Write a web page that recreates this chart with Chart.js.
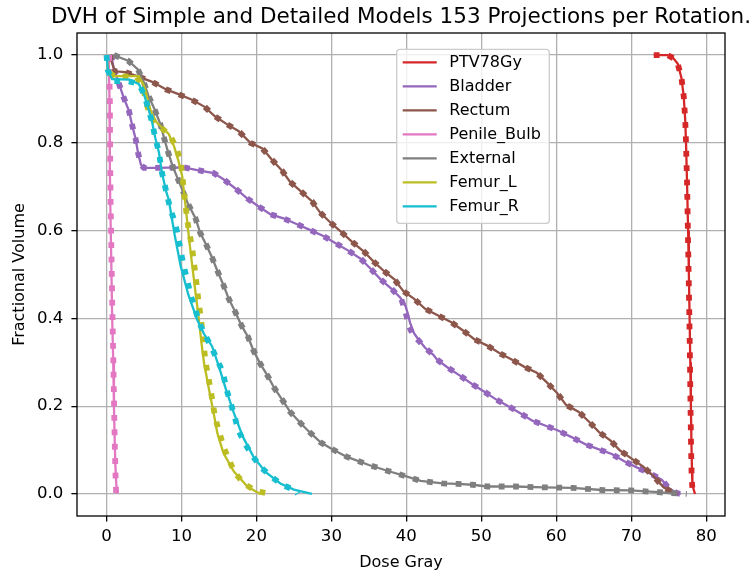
<!DOCTYPE html>
<html>
<head>
<meta charset="utf-8">
<script src="https://cdn.jsdelivr.net/npm/chart.js@4/dist/chart.umd.min.js"></script>
<style>
  html, body { margin: 0; padding: 0; background: #ffffff; }
  canvas { display: block; }
</style>
</head>
<body>
<canvas id="c" width="756" height="575"></canvas>
<script>
// ---------- DATA ----------
const structures = ["PTV78Gy", "Bladder", "Rectum", "Penile_Bulb", "External", "Femur_L", "Femur_R"];
const xTickValues = [0, 10, 20, 30, 40, 50, 60, 70, 80];
const yTickValues = [0.0, 0.2, 0.4, 0.6, 0.8, 1.0];

// Detailed model (solid lines)
const ptvDose = [73.0, 74.8, 75.6, 76.2, 76.7, 77.0, 77.2, 77.3, 77.45, 77.58, 77.68, 77.78, 77.87, 77.95, 78.04, 78.1, 78.15, 78.5];
const ptvVol  = [1.0, 1.0, 0.993, 0.98, 0.947, 0.905, 0.85, 0.8, 0.7, 0.6, 0.5, 0.4, 0.3, 0.2, 0.1, 0.05, 0.02, 0.0];

const bladderDose = [0.6, 1.0, 2.3, 3.0, 3.4, 3.9, 4.2, 4.6, 5.0, 6.5, 10.3, 12.1, 14.3, 15.6, 17.2, 18.8, 20.3, 21.9, 23.6, 25.5, 27.2, 29.0, 30.5, 32.2, 33.9, 35.3, 36.5, 38.1, 39.2, 39.9, 40.2, 40.5, 41.0, 41.6, 42.5, 43.6, 44.1, 45.6, 47.2, 48.8, 50.3, 52.0, 53.6, 55.2, 56.8, 58.5, 60.3, 62.1, 63.9, 65.6, 67.4, 69.0, 70.8, 72.5, 74.1, 75.0, 76.1, 76.6];
const bladderVol  = [1.0, 0.968, 0.903, 0.873, 0.842, 0.808, 0.778, 0.75, 0.743, 0.743, 0.744, 0.738, 0.731, 0.717, 0.696, 0.673, 0.655, 0.637, 0.628, 0.614, 0.601, 0.587, 0.572, 0.555, 0.536, 0.512, 0.49, 0.466, 0.447, 0.428, 0.41, 0.39, 0.367, 0.352, 0.333, 0.317, 0.306, 0.287, 0.269, 0.25, 0.234, 0.215, 0.2, 0.184, 0.167, 0.156, 0.144, 0.129, 0.113, 0.102, 0.091, 0.075, 0.06, 0.047, 0.032, 0.013, 0.002, 0.0];

const rectumDose = [0.4, 1.1, 2.5, 3.9, 6.1, 7.9, 9.6, 11.4, 13.1, 14.5, 16.1, 17.6, 19.2, 20.8, 22.1, 23.4, 24.5, 25.9, 27.4, 28.5, 29.9, 31.3, 32.8, 34.3, 35.6, 37.0, 38.4, 39.6, 41.0, 42.5, 44.3, 46.0, 47.6, 49.1, 50.8, 52.4, 54.1, 55.8, 57.4, 58.8, 60.1, 61.3, 63.0, 64.4, 65.7, 67.2, 68.5, 70.0, 71.6, 73.0, 74.3, 75.6, 76.2];
const rectumVol  = [1.0, 0.963, 0.961, 0.953, 0.939, 0.922, 0.911, 0.898, 0.882, 0.86, 0.842, 0.827, 0.8, 0.787, 0.761, 0.737, 0.711, 0.69, 0.667, 0.641, 0.618, 0.597, 0.574, 0.553, 0.53, 0.508, 0.489, 0.462, 0.445, 0.422, 0.406, 0.391, 0.372, 0.352, 0.338, 0.321, 0.306, 0.289, 0.276, 0.253, 0.23, 0.203, 0.187, 0.164, 0.141, 0.122, 0.099, 0.081, 0.062, 0.04, 0.015, 0.003, 0.0];

const bulbDose = [0.3, 0.4, 0.45, 0.5, 0.62, 0.76, 0.9, 1.0, 1.1, 1.2, 1.3, 1.43];
const bulbVol  = [1.0, 0.9, 0.75, 0.67, 0.55, 0.405, 0.3, 0.2, 0.12, 0.062, 0.025, 0.0];

const externalDose = [0.9, 2.9, 4.2, 5.0, 5.6, 6.4, 7.2, 7.7, 8.2, 8.8, 9.9, 10.8, 11.9, 12.5, 13.3, 14.1, 14.8, 15.6, 16.3, 17.2, 18.0, 18.9, 19.6, 20.5, 21.5, 22.4, 23.5, 24.5, 25.9, 27.2, 28.6, 29.9, 32.0, 35.0, 38.0, 40.0, 41.9, 44.8, 46.8, 48.8, 50.8, 54.5, 58.3, 62.1, 66.1, 69.9, 73.6, 76.0];
const externalVol  = [1.0, 0.987, 0.967, 0.937, 0.907, 0.877, 0.842, 0.81, 0.78, 0.748, 0.702, 0.664, 0.627, 0.595, 0.568, 0.538, 0.508, 0.476, 0.445, 0.414, 0.384, 0.357, 0.327, 0.297, 0.269, 0.241, 0.213, 0.187, 0.161, 0.139, 0.117, 0.104, 0.085, 0.066, 0.05, 0.04, 0.03, 0.024, 0.023, 0.021, 0.017, 0.017, 0.015, 0.014, 0.009, 0.008, 0.004, 0.0];

const femurLDose = [0.0, 0.3, 1.0, 4.3, 5.0, 5.9, 6.5, 7.4, 8.3, 9.0, 9.6, 10.1, 10.5, 10.9, 11.3, 11.8, 12.3, 12.7, 13.0, 13.6, 14.3, 14.8, 15.6, 17.0, 18.8, 20.5];
const femurLVol  = [1.0, 0.955, 0.952, 0.952, 0.93, 0.873, 0.85, 0.835, 0.82, 0.793, 0.759, 0.724, 0.664, 0.6, 0.54, 0.47, 0.4, 0.34, 0.3, 0.245, 0.184, 0.138, 0.093, 0.051, 0.017, 0.0];

const femurRDose = [0.0, 0.2, 0.76, 3.0, 4.3, 5.0, 5.6, 6.1, 6.5, 7.0, 7.4, 8.0, 8.3, 9.1, 9.9, 10.9, 12.1, 13.0, 14.1, 15.0, 16.0, 17.0, 18.2, 19.6, 21.2, 23.2, 25.0, 27.4];
const femurRVol  = [1.0, 0.964, 0.945, 0.944, 0.934, 0.911, 0.877, 0.846, 0.812, 0.778, 0.732, 0.687, 0.671, 0.59, 0.519, 0.455, 0.397, 0.365, 0.336, 0.29, 0.235, 0.184, 0.13, 0.085, 0.05, 0.024, 0.01, 0.0];

// Simple model (dotted lines)
const ptvSimpleDose = [73.0, 74.8, 75.6, 76.2, 76.7, 77.0, 77.2, 77.3, 77.45, 77.55, 77.65, 77.75, 77.83, 77.9, 77.98, 78.05, 78.2];
const ptvSimpleVol  = [1.0, 1.0, 0.993, 0.98, 0.947, 0.905, 0.85, 0.8, 0.7, 0.6, 0.5, 0.4, 0.3, 0.2, 0.1, 0.04, 0.0];

const bladderSimpleDose = [0.6, 1.0, 2.3, 3.0, 3.4, 3.9, 4.2, 4.6, 5.0, 6.5, 10.3, 12.1, 14.3, 15.6, 17.2, 18.8, 20.3, 21.9, 23.6, 25.5, 27.2, 29.0, 30.5, 32.2, 33.9, 35.3, 36.5, 38.1, 39.3, 39.8, 40.1, 40.4, 40.9, 41.6, 42.5, 43.6, 44.1, 45.6, 47.2, 48.8, 50.3, 52.0, 53.6, 55.2, 56.8, 58.5, 60.3, 62.1, 63.9, 65.6, 67.4, 69.0, 70.8, 72.5, 74.1, 75.0, 76.1, 76.6];
const bladderSimpleVol  = [1.0, 0.968, 0.903, 0.873, 0.842, 0.808, 0.778, 0.75, 0.743, 0.743, 0.744, 0.738, 0.731, 0.717, 0.696, 0.673, 0.655, 0.637, 0.628, 0.614, 0.601, 0.587, 0.572, 0.555, 0.536, 0.512, 0.49, 0.466, 0.445, 0.42, 0.4, 0.38, 0.362, 0.35, 0.333, 0.317, 0.306, 0.287, 0.269, 0.25, 0.234, 0.215, 0.2, 0.184, 0.167, 0.156, 0.144, 0.129, 0.113, 0.102, 0.091, 0.075, 0.06, 0.047, 0.032, 0.013, 0.002, 0.0];

const rectumSimpleDose = [0.4, 1.0, 2.5, 3.9, 6.1, 7.9, 9.6, 11.4, 13.1, 14.5, 16.1, 17.6, 19.2, 20.8, 22.1, 23.4, 24.5, 25.9, 27.4, 28.5, 29.9, 31.3, 32.8, 34.3, 35.6, 37.0, 38.4, 39.6, 41.0, 42.5, 44.3, 46.0, 47.6, 49.1, 50.8, 52.4, 54.1, 55.8, 57.4, 58.8, 60.1, 61.3, 63.0, 64.4, 65.7, 67.2, 68.5, 70.0, 71.6, 73.0, 74.3, 75.6, 76.4];
const rectumSimpleVol  = [1.0, 0.963, 0.961, 0.953, 0.939, 0.922, 0.911, 0.898, 0.882, 0.86, 0.842, 0.827, 0.8, 0.787, 0.761, 0.737, 0.711, 0.69, 0.667, 0.641, 0.618, 0.597, 0.574, 0.553, 0.53, 0.508, 0.489, 0.462, 0.445, 0.422, 0.406, 0.391, 0.372, 0.352, 0.338, 0.321, 0.306, 0.289, 0.276, 0.253, 0.23, 0.203, 0.187, 0.164, 0.141, 0.122, 0.099, 0.081, 0.062, 0.04, 0.015, 0.003, 0.0];

const bulbSimpleDose = [0.35, 0.45, 0.5, 0.55, 0.66, 0.8, 0.92, 1.02, 1.1, 1.18, 1.25, 1.3];
const bulbSimpleVol  = [1.0, 0.9, 0.75, 0.67, 0.55, 0.405, 0.3, 0.2, 0.12, 0.062, 0.02, 0.0];

const externalSimpleDose = [1.0, 2.9, 4.2, 5.0, 5.6, 6.4, 7.2, 7.7, 8.2, 8.8, 9.9, 10.8, 11.9, 12.5, 13.3, 14.1, 14.8, 15.6, 16.3, 17.2, 18.0, 18.9, 19.6, 20.5, 21.5, 22.4, 23.5, 24.5, 25.9, 27.2, 28.6, 29.9, 32.0, 35.0, 38.0, 40.0, 41.9, 44.8, 46.8, 48.8, 50.8, 54.5, 58.3, 62.1, 66.1, 69.9, 73.6, 77.4];
const externalSimpleVol  = [1.0, 0.987, 0.967, 0.937, 0.907, 0.877, 0.842, 0.81, 0.78, 0.748, 0.702, 0.664, 0.627, 0.595, 0.568, 0.538, 0.508, 0.476, 0.445, 0.414, 0.384, 0.357, 0.327, 0.297, 0.269, 0.241, 0.213, 0.187, 0.161, 0.139, 0.117, 0.104, 0.085, 0.066, 0.05, 0.04, 0.03, 0.024, 0.023, 0.021, 0.017, 0.017, 0.015, 0.014, 0.009, 0.008, 0.004, 0.0];

const femurLSimpleDose = [0.4, 1.0, 4.0, 4.8, 5.5, 6.3, 7.3, 8.5, 9.2, 9.9, 10.1, 10.5, 10.8, 11.4, 11.9, 12.3, 12.6, 13.0, 13.2, 13.9, 14.2, 14.5, 15.1, 15.6, 16.3, 17.1, 18.3, 19.9, 21.8];
const femurLSimpleVol  = [0.96, 0.952, 0.95, 0.93, 0.88, 0.85, 0.835, 0.816, 0.793, 0.759, 0.728, 0.664, 0.62, 0.563, 0.496, 0.435, 0.401, 0.336, 0.302, 0.237, 0.205, 0.173, 0.138, 0.108, 0.079, 0.049, 0.024, 0.007, 0.0];

const femurRSimpleDose = [0.0, 0.2, 0.8, 3.0, 4.3, 5.0, 5.6, 6.1, 6.5, 7.0, 7.4, 8.0, 8.53, 9.2, 9.56, 10.3, 10.76, 11.2, 11.8, 12.3, 13.0, 13.96, 14.76, 15.56, 15.96, 16.5, 17.07, 17.56, 18.4, 19.4, 20.5, 21.9, 23.4, 25.2, 25.5];
const femurRSimpleVol  = [1.0, 0.964, 0.941, 0.94, 0.934, 0.911, 0.877, 0.846, 0.812, 0.778, 0.732, 0.687, 0.648, 0.616, 0.584, 0.519, 0.489, 0.454, 0.424, 0.393, 0.367, 0.336, 0.306, 0.276, 0.241, 0.211, 0.178, 0.146, 0.117, 0.089, 0.062, 0.041, 0.021, 0.008, 0.0];

// ---------- STYLE ----------
const colors = ["#d62728", "#9467bd", "#8c564b", "#e377c2", "#7f7f7f", "#bcbd22", "#17becf"];
const FONT = "'DejaVu Sans', 'Liberation Sans', sans-serif";

const detailed = [
  [ptvDose, ptvVol], [bladderDose, bladderVol], [rectumDose, rectumVol], [bulbDose, bulbVol],
  [externalDose, externalVol], [femurLDose, femurLVol], [femurRDose, femurRVol]
];
const simple = [
  [ptvSimpleDose, ptvSimpleVol], [bladderSimpleDose, bladderSimpleVol], [rectumSimpleDose, rectumSimpleVol], [bulbSimpleDose, bulbSimpleVol],
  [externalSimpleDose, externalSimpleVol], [femurLSimpleDose, femurLSimpleVol], [femurRSimpleDose, femurRSimpleVol]
];

function toPoints(d, v) { return d.map((x, i) => ({ x: x, y: v[i] })); }

const datasets = [];
structures.forEach((name, i) => {
  datasets.push({
    label: name, data: toPoints(detailed[i][0], detailed[i][1]),
    borderColor: colors[i], backgroundColor: colors[i], borderWidth: 2.3,
    pointRadius: 0, tension: 0, fill: false, showInLegend: true
  });
  datasets.push({
    label: name + " (simple)", data: toPoints(simple[i][0], simple[i][1]),
    borderColor: colors[i], backgroundColor: colors[i], borderWidth: 5.8,
    borderDash: [5.8, 8.6], borderCapStyle: 'butt', borderJoinStyle: 'miter',
    pointRadius: 0, tension: 0, fill: false, showInLegend: false
  });
});
// matplotlib draws later lines on top; Chart.js draws higher "order" first
datasets.forEach((ds, k) => { ds.order = datasets.length - k; });

const frameAndLegend = {
  id: 'frameAndLegend',
  afterDraw(chart) {
    const ctx = chart.ctx;
    const a = chart.chartArea;
    ctx.save();
    // spines
    ctx.strokeStyle = '#000';
    ctx.lineWidth = 1.3;
    ctx.strokeRect(a.left, a.top, a.right - a.left, a.bottom - a.top);
    // title
    ctx.fillStyle = '#000';
    ctx.font = "21.5px " + FONT;
    ctx.textAlign = 'center';
    ctx.textBaseline = 'alphabetic';
    ctx.fillText("DVH of Simple and Detailed Models 153 Projections per Rotation.", (a.left + a.right) / 2, 22.7);
    // legend
    const lx = 396.7, ly = 49.3, lw = 152.6, lh = 174, r = 3;
    ctx.beginPath();
    ctx.moveTo(lx + r, ly);
    ctx.lineTo(lx + lw - r, ly); ctx.quadraticCurveTo(lx + lw, ly, lx + lw, ly + r);
    ctx.lineTo(lx + lw, ly + lh - r); ctx.quadraticCurveTo(lx + lw, ly + lh, lx + lw - r, ly + lh);
    ctx.lineTo(lx + r, ly + lh); ctx.quadraticCurveTo(lx, ly + lh, lx, ly + lh - r);
    ctx.lineTo(lx, ly + r); ctx.quadraticCurveTo(lx, ly, lx + r, ly);
    ctx.closePath();
    ctx.fillStyle = 'rgba(255,255,255,0.8)';
    ctx.fill();
    ctx.strokeStyle = '#cccccc';
    ctx.lineWidth = 1.3;
    ctx.stroke();
    ctx.font = "16px " + FONT;
    ctx.textAlign = 'left';
    ctx.textBaseline = 'middle';
    let row = 0;
    chart.data.datasets.forEach(ds => {
      if (!ds.showInLegend) return;
      const y = 62.3 + row * 24.0;
      ctx.strokeStyle = ds.borderColor;
      ctx.lineWidth = 2.3;
      ctx.setLineDash([]);
      ctx.beginPath(); ctx.moveTo(402.7, y); ctx.lineTo(436.7, y); ctx.stroke();
      ctx.fillStyle = '#000';
      ctx.fillText(ds.label, 449.3, y + 1);
      row++;
    });
    ctx.restore();
  }
};

const tickFont = { family: FONT, size: 16.6 };
const labelFont = { family: FONT, size: 16 };

new Chart(document.getElementById('c'), {
  type: 'line',
  data: { datasets: datasets },
  options: {
    responsive: false,
    animation: false,
    devicePixelRatio: 1,
    layout: { padding: { top: 33, right: 31, left: 0, bottom: 0 } },
    plugins: { legend: { display: false }, title: { display: false }, tooltip: { enabled: false } },
    scales: {
      x: {
        type: 'linear', min: -3.93, max: 82.5,
        afterBuildTicks: s => { s.ticks = xTickValues.map(v => ({ value: v })); },
        afterFit: s => { s.height = 59; },
        grid: { color: '#b0b0b0', lineWidth: 1.3, tickLength: 5.6, tickColor: '#000', tickWidth: 1.3 },
        border: { display: false },
        ticks: { color: '#000', font: tickFont, padding: 5, maxRotation: 0, autoSkip: false, callback: v => String(v) },
        title: { display: true, text: 'Dose Gray', color: '#000', font: labelFont, padding: { top: 0, bottom: 3 } }
      },
      y: {
        type: 'linear', min: -0.0502, max: 1.0502,
        afterBuildTicks: s => { s.ticks = yTickValues.map(v => ({ value: v })); },
        afterFit: s => { s.width = 77; },
        grid: { color: '#b0b0b0', lineWidth: 1.3, tickLength: 5.6, tickColor: '#000', tickWidth: 1.3 },
        border: { display: false },
        ticks: { color: '#000', font: tickFont, padding: 8, autoSkip: false, callback: v => Number(v).toFixed(1) },
        title: { display: true, text: 'Fractional Volume', color: '#000', font: labelFont, padding: { top: 10, bottom: 0 } }
      }
    }
  },
  plugins: [frameAndLegend]
});
</script>
</body>
</html>
